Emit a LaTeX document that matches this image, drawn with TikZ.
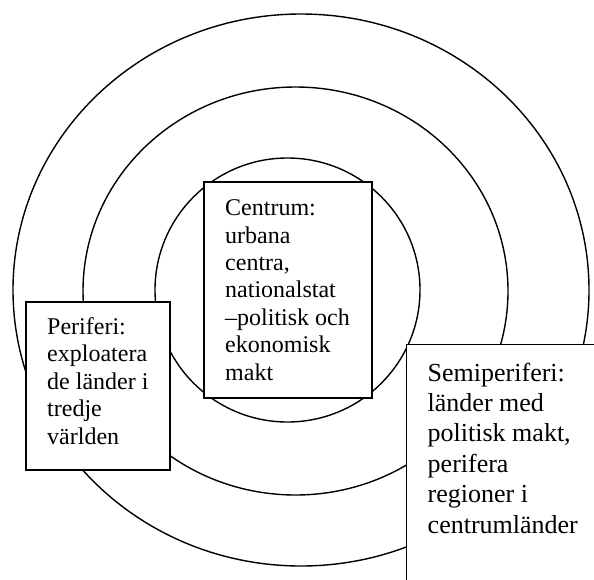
\documentclass[tikz,border=0pt]{standalone}
\usepackage{fontspec}
\setmainfont{Liberation Serif}
\begin{document}
\begin{tikzpicture}[x=1pt,y=-1pt,
  ring/.style={draw=black,line width=1.4pt},
  boxshape/.style={draw=black,fill=white,line width=1.4pt},
  smalltext/.style={anchor=base west,inner sep=0pt,align=left,font=\fontsize{24}{27.4}\selectfont},
  bigtext/.style={anchor=base west,inner sep=0pt,align=left,font=\fontsize{26}{30.4}\selectfont}]
\clip (0,0) rectangle (594,579);
\fill[white] (0,0) rectangle (594,579);
% rings
\draw[ring] (301,290) ellipse [x radius=288, y radius=276];
\draw[ring] (295.5,291) ellipse [x radius=212.5, y radius=204];
\draw[ring] (287.5,290) ellipse [x radius=132.5, y radius=132];
% boxes
\draw[boxshape] (204,182) rectangle (372,398);
\draw[boxshape] (26,302) rectangle (170,470);
\draw[boxshape] (406.5,344.7) rectangle (640,640);
% texts (anchored at the baseline of the last line)
\node[smalltext] (centrum) at (225,380) {Centrum:\\urbana\\centra,\\nationalstat\\–politisk och\\ekonomisk\\makt};
\node[smalltext] (periferi) at (47,444) {Periferi:\\exploatera\\de länder i\\tredje\\världen};
\node[bigtext] (semi) at (427.5,533) {Semiperiferi:\\länder med\\politisk makt,\\perifera\\regioner i\\centrumländer};
\end{tikzpicture}
\end{document}
